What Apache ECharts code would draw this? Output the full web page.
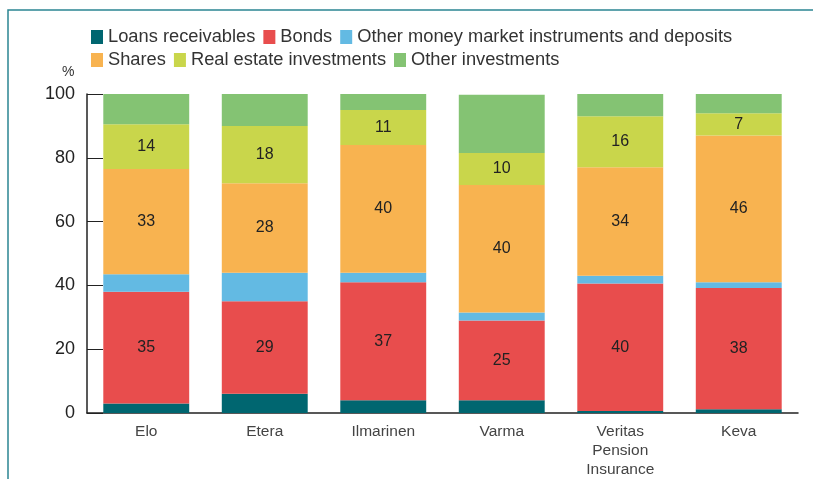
<!DOCTYPE html>
<html>
<head>
<meta charset="utf-8">
<title>Pension investments</title>
<script src="https://cdn.jsdelivr.net/npm/echarts@6/dist/echarts.min.js"></script>
</head>
<body style="margin:0">
<div id="main" style="width:813px;height:479px;"></div>
<script type="text/javascript">
var categories = ['Elo', 'Etera', 'Ilmarinen', 'Varma', 'Veritas\nPension\nInsurance', 'Keva'];
var yTicks = [0, 20, 40, 60, 80, 100];

// % shares of each asset class
var loans      = [3,   6,  4,  4,   0.6, 1.2];
var bonds      = [35, 29, 37, 25,  40,   38];
var moneyMkt   = [5.5, 9,  3,  2.5, 2.4, 1.8];
var shares     = [33, 28, 40, 40,  34,   46];
var realEstate = [14, 18, 11, 10,  16,    7];
var otherInv   = [9.5, 10, 5, 18.3, 7,    6];

var myChart = echarts.init(document.getElementById('main'));

var legendFont = { fontFamily: 'Liberation Sans, Arial', fontSize: 18.3, color: '#333' };

function serie(name, data, color, labelled) {
    return {
        name: name,
        type: 'bar',
        stack: 'total',
        barCategoryGap: '27.5%',
        data: data,
        itemStyle: { color: color },
        label: {
            show: labelled,
            position: 'inside',
            color: '#222',
            fontSize: 16,
            fontFamily: 'Liberation Sans, Arial'
        }
    };
}

option = {
    animation: false,
    textStyle: { fontFamily: 'Liberation Sans, Arial' },
    graphic: [
        {
            type: 'rect',
            shape: { x: 8, y: 10, width: 900, height: 600 },
            style: { fill: 'none', stroke: '#2b8592', lineWidth: 1.5 }
        },
        {
            type: 'text',
            left: 62,
            top: 65,
            style: { text: '%', fontSize: 14, fill: '#333', fontFamily: 'Liberation Sans, Arial' }
        }
    ],
    legend: [
        {
            left: 86, top: 23,
            icon: 'rect', itemWidth: 12, itemHeight: 14, itemGap: 8,
            textStyle: legendFont,
            data: ['Loans receivables', 'Bonds', 'Other money market instruments and deposits']
        },
        {
            left: 86, top: 46,
            icon: 'rect', itemWidth: 12, itemHeight: 14, itemGap: 8,
            textStyle: legendFont,
            data: ['Shares', 'Real estate investments', 'Other investments']
        }
    ],
    grid: { left: 87, right: 15, top: 94, bottom: 64 },
    xAxis: {
        type: 'category',
        data: categories,
        axisLine: { lineStyle: { color: '#222', width: 1.5 } },
        axisTick: { inside: true, length: 8, lineStyle: { color: '#222' } },
        axisLabel: { color: '#444', fontSize: 15.5, margin: 9, lineHeight: 19 }
    },
    yAxis: {
        type: 'value',
        min: yTicks[0],
        max: yTicks[yTicks.length - 1],
        interval: 20,
        axisLine: { show: true, lineStyle: { color: '#222', width: 1.5 } },
        axisTick: { show: true, inside: true, length: 16, lineStyle: { color: '#222' } },
        axisLabel: { color: '#222', fontSize: 18, margin: 12 },
        splitLine: { show: false }
    },
    series: [
        serie('Loans receivables', loans, '#006670', false),
        serie('Bonds', bonds, '#e84d4d', true),
        serie('Other money market instruments and deposits', moneyMkt, '#63bae3', false),
        serie('Shares', shares, '#f8b350', true),
        serie('Real estate investments', realEstate, '#c9d64b', true),
        serie('Other investments', otherInv, '#84c373', false)
    ]
};

myChart.setOption(option);
</script>
</body>
</html>
